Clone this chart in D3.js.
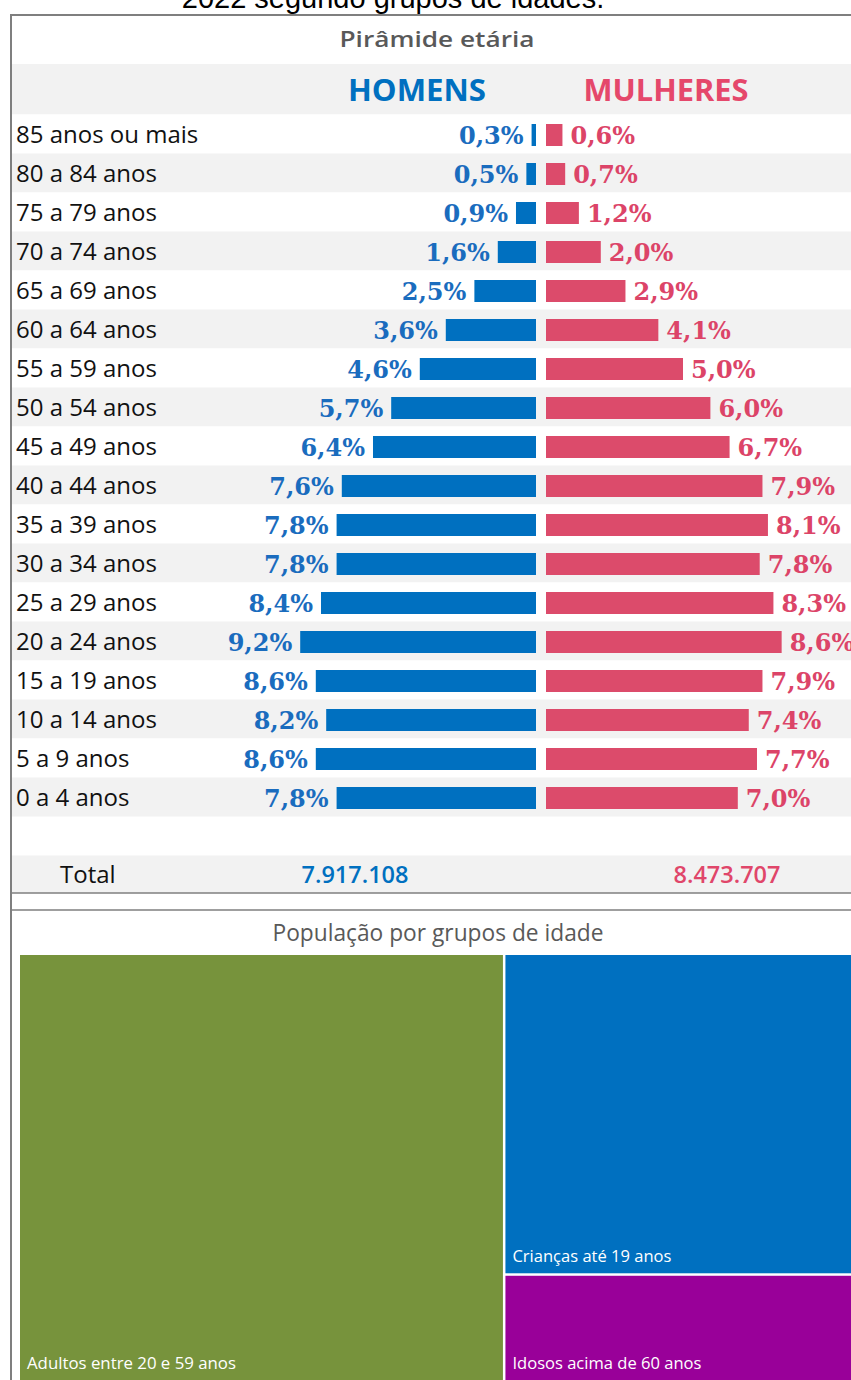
<!DOCTYPE html>
<html><head><meta charset="utf-8">
<script src="https://cdn.jsdelivr.net/npm/d3@7"></script>
<style>body{margin:0;background:#fff;overflow:hidden}</style>
</head><body><svg id="c" width="851" height="1380"></svg>
<script>
// ---- data ----
const ages = ["85 anos ou mais","80 a 84 anos","75 a 79 anos","70 a 74 anos","65 a 69 anos","60 a 64 anos","55 a 59 anos","50 a 54 anos","45 a 49 anos","40 a 44 anos","35 a 39 anos","30 a 34 anos","25 a 29 anos","20 a 24 anos","15 a 19 anos","10 a 14 anos","5 a 9 anos","0 a 4 anos"];
const homens = [0.3,0.5,0.9,1.6,2.5,3.6,4.6,5.7,6.4,7.6,7.8,7.8,8.4,9.2,8.6,8.2,8.6,7.8];
const mulheres = [0.6,0.7,1.2,2.0,2.9,4.1,5.0,6.0,6.7,7.9,8.1,7.8,8.3,8.6,7.9,7.4,7.7,7.0];
const seriesNames = ["HOMENS","MULHERES"];
const totals = ["7.917.108","8.473.707"];
const groups = ["Adultos entre 20 e 59 anos","Crianças até 19 anos","Idosos acima de 60 anos"];
const groupPop = [9.50, 5.17, 1.72]; // milhões (estimativa)

const BLUE="#0070c0", PINK="#dc4b6b", GRAY="#f2f2f2", TXTGRAY="#595959";
const groupColors = ["#77933c", "#0070c0", "#990099"];
const loc = d3.formatLocale({decimal:",", thousands:".", grouping:[3], currency:["R$",""]});
const pct = v => loc.format(".1f")(v) + "%";

const svg = d3.select("#c");

// page title (cropped at the top, as in the source)
svg.append("text").attr("x",393).attr("y",8).attr("text-anchor","middle")
  .attr("font-family","Liberation Sans, Arial, sans-serif").attr("font-size",29).attr("fill","#000")
  .text("2022 segundo grupos de idades.");

// ---- pyramid ----
const y = d3.scaleBand().domain(ages).range([114.5, 816.5]);
const axisM = 536, axisW = 546;
const xM = d3.scaleLinear().domain([0.13, 10]).range([0, 256.6]);
const xW = d3.scaleLinear().domain([0, 10]).range([0, 274]);

svg.append("rect").attr("x",12).attr("y",64).attr("width",839).attr("height",50.5).attr("fill",GRAY);
svg.append("g").selectAll("rect").data(ages).join("rect")
  .attr("x",12).attr("y",d=>y(d)).attr("width",839).attr("height",y.bandwidth())
  .attr("fill",(d,i)=> i%2 ? GRAY : "#fff");
svg.append("rect").attr("x",12).attr("y",855.5).attr("width",839).attr("height",37.5).attr("fill",GRAY);

svg.append("text").attr("x",437).attr("y",47).attr("text-anchor","middle")
  .attr("font-family","Open Sans, sans-serif").attr("font-weight",600).attr("font-size",22)
  .attr("fill",TXTGRAY).attr("textLength",195).attr("lengthAdjust","spacingAndGlyphs").text("Pirâmide etária");

svg.append("g").selectAll("text").data(seriesNames).join("text")
  .attr("x",(d,i)=> i? 666 : 417).attr("y",101).attr("text-anchor","middle")
  .attr("font-family","Open Sans, sans-serif").attr("font-weight",700).attr("font-size",30)
  .attr("fill",(d,i)=> i? "#e5486b" : BLUE)
  .attr("textLength",(d,i)=> i? 165 : 138).attr("lengthAdjust","spacingAndGlyphs").text(d=>d);

svg.append("g").selectAll("text").data(ages).join("text")
  .attr("x",16).attr("y",d=>y(d)+y.bandwidth()/2+8.5)
  .attr("font-family","Open Sans, sans-serif").attr("font-size",24).attr("fill","#111")
  .text(d=>d);

const bh = 22;
svg.append("g").selectAll("rect").data(homens).join("rect")
  .attr("x",d=>axisM - xM(d)).attr("width",d=>xM(d))
  .attr("y",(d,i)=>y(ages[i])+y.bandwidth()/2-bh/2+1).attr("height",bh).attr("fill",BLUE);
svg.append("g").selectAll("rect").data(mulheres).join("rect")
  .attr("x",axisW).attr("width",d=>xW(d))
  .attr("y",(d,i)=>y(ages[i])+y.bandwidth()/2-bh/2+1).attr("height",bh).attr("fill",PINK);

const pf = "DejaVu Serif, serif";
svg.append("g").selectAll("text").data(homens).join("text")
  .attr("x",d=>axisM - xM(d) - 8).attr("y",(d,i)=>y(ages[i])+y.bandwidth()/2+10)
  .attr("text-anchor","end").attr("font-family",pf).attr("font-weight",700).attr("font-size",24)
  .attr("fill","#1a6cbe").text(d=>pct(d));
svg.append("g").selectAll("text").data(mulheres).join("text")
  .attr("x",d=>axisW + xW(d) + 8).attr("y",(d,i)=>y(ages[i])+y.bandwidth()/2+10)
  .attr("text-anchor","start").attr("font-family",pf).attr("font-weight",700).attr("font-size",24)
  .attr("fill","#dc4468").text(d=>pct(d));

// total row
svg.append("text").attr("x",60).attr("y",883).attr("font-family","Open Sans, sans-serif")
  .attr("font-size",24).attr("fill","#111").text("Total");
svg.append("g").selectAll("text").data(totals).join("text")
  .attr("x",(d,i)=> i? 727 : 355).attr("y",883).attr("text-anchor","middle")
  .attr("font-family","Open Sans, sans-serif").attr("font-weight",600).attr("font-size",23.5)
  .attr("fill",(d,i)=> i? "#e0466a" : BLUE).text(d=>d);

// frame lines
const frame = svg.append("g").attr("stroke","#7f7f7f").attr("fill","none");
frame.append("line").attr("x1",11).attr("x2",11).attr("y1",15).attr("y2",1380).attr("stroke-width",2);
frame.append("line").attr("x1",10).attr("x2",851).attr("y1",15).attr("y2",15).attr("stroke-width",2);
frame.append("line").attr("x1",10).attr("x2",851).attr("y1",893).attr("y2",893).attr("stroke-width",1.5);
frame.append("line").attr("x1",10).attr("x2",851).attr("y1",910).attr("y2",910).attr("stroke-width",1.5);

// ---- treemap ----
svg.append("text").attr("x",438).attr("y",941).attr("text-anchor","middle")
  .attr("font-family","Open Sans, sans-serif").attr("font-size",23).attr("fill",TXTGRAY)
  .attr("textLength",331).attr("lengthAdjust","spacingAndGlyphs")
  .text("População por grupos de idade");

const labelLen = [209, 159, 189];
const root = d3.hierarchy({children: groups.map((g,i)=>({name:g, value:groupPop[i], color:groupColors[i], len:labelLen[i]}))})
  .sum(d=>d.value || 0).sort((a,b)=>b.value-a.value);
d3.treemap().tile(d3.treemapSquarify).size([835, 425]).paddingInner(2.5)(root);
const tg = svg.append("g").attr("transform","translate(20,955)");
const leaf = tg.selectAll("g").data(root.leaves()).join("g");
leaf.append("rect").attr("x",d=>d.x0).attr("y",d=>d.y0)
  .attr("width",d=>d.x1-d.x0).attr("height",d=>d.y1-d.y0).attr("fill",d=>d.data.color);
leaf.append("text").attr("x",d=>d.x0+7).attr("y",d=>Math.min(d.y1, 425)-11)
  .attr("font-family","Open Sans, sans-serif").attr("font-size",16.5).attr("fill","#fff")
  .attr("textLength",d=>d.data.len).attr("lengthAdjust","spacingAndGlyphs")
  .text(d=>d.data.name);
</script></body></html>
